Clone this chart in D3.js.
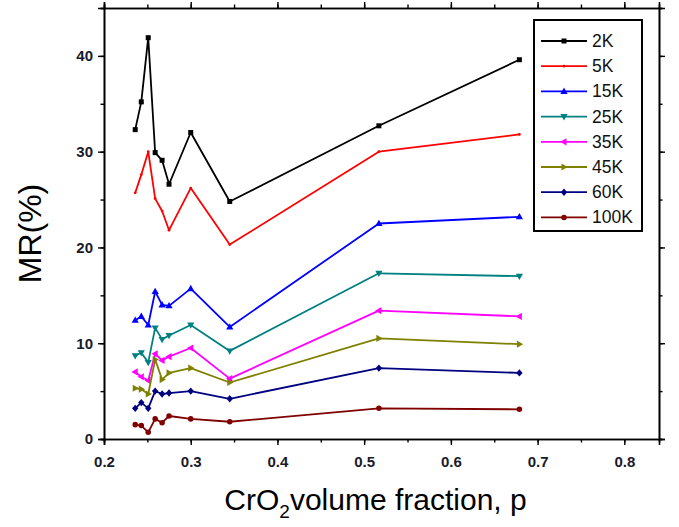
<!DOCTYPE html>
<html><head><meta charset="utf-8">
<script src="https://cdn.jsdelivr.net/npm/d3@7"></script>
<style>
html,body{margin:0;padding:0;background:#fff;}
svg text{font-family:Arial,"Liberation Sans",sans-serif;}
</style></head>
<body><svg id="c" width="679" height="527"></svg>
<script>
const pValues = [0.236, 0.243, 0.251, 0.259, 0.267, 0.275, 0.300, 0.345, 0.517, 0.679];
const seriesNames = ["2K","5K","15K","25K","35K","45K","60K","100K"];
const mr2K   = [32.3, 35.2, 41.9, 29.9, 29.1, 26.6, 32.0, 24.8, 32.7, 39.6];
const mr5K   = [25.7, 27.6, 30.0, 25.1, 23.8, 21.8, 26.2, 20.3, 30.0, 31.8];
const mr15K  = [12.4, 12.8, 11.9, 15.4, 14.0, 13.9, 15.7, 11.7, 22.5, 23.2];
const mr25K  = [8.7, 9.0, 8.0, 11.6, 10.4, 10.8, 11.9, 9.2, 17.3, 17.0];
const mr35K  = [7.0, 6.5, 6.1, 8.9, 8.2, 8.6, 9.5, 6.3, 13.4, 12.8];
const mr45K  = [5.3, 5.2, 4.7, 8.3, 6.2, 6.9, 7.4, 5.9, 10.5, 9.9];
const mr60K  = [3.2, 3.8, 3.2, 5.0, 4.7, 4.8, 5.0, 4.2, 7.4, 6.9];
const mr100K = [1.5, 1.4, 0.7, 2.1, 1.7, 2.4, 2.1, 1.8, 3.2, 3.1];
const seriesValues = [mr2K, mr5K, mr15K, mr25K, mr35K, mr45K, mr60K, mr100K];
const xTickLabels = ["0.2","0.3","0.4","0.5","0.6","0.7","0.8"];
const yTickLabels = ["0","10","20","30","40"];

const colors = ["#000000","#ff0000","#0000ff","#008080","#ff00ff","#808000","#000080","#800000"];
const shapes = ["square","smallcircle","up","down","left","right","diamond","circle"];

const svg = d3.select("#c");
const L = 104, R = 659, T = 8, B = 439;
const x = d3.scaleLinear().domain([0.2, 0.84]).range([L, R]);
const y = d3.scaleLinear().domain([0, 45]).range([B, T]);

function markerPath(shape){
  switch(shape){
    case "square": return "M-2.5,-2.5H2.5V2.5H-2.5Z";
    case "smallcircle": return d3.symbol(d3.symbolCircle, 6)();
    case "up": return "M0,-3.8L3.6,2.5L-3.6,2.5Z";
    case "down": return "M0,3.8L3.6,-2.5L-3.6,-2.5Z";
    case "left": return "M-3.8,0L2.5,-3.6L2.5,3.6Z";
    case "right": return "M3.8,0L-2.5,-3.6L-2.5,3.6Z";
    case "diamond": return "M0,-3.7L3.2,0L0,3.7L-3.2,0Z";
    case "circle": return d3.symbol(d3.symbolCircle, 24)();
  }
}

// axes frame
const xMinor = d3.range(0.2, 0.8401, 0.05);
const yMinor = d3.range(0, 45.01, 5);
const axB = svg.append("g").attr("transform",`translate(0,${B})`)
  .call(d3.axisBottom(x).tickValues(xTickLabels.map(Number)).tickFormat((d,i)=>xTickLabels[i]).tickSize(6).tickPadding(8));
const axBm = svg.append("g").attr("transform",`translate(0,${B})`)
  .call(d3.axisBottom(x).tickValues(xMinor).tickFormat("").tickSize(3.5));
const axT = svg.append("g").attr("transform",`translate(0,${T})`)
  .call(d3.axisTop(x).tickValues(xTickLabels.map(Number)).tickFormat("").tickSize(6));
const axTm = svg.append("g").attr("transform",`translate(0,${T})`)
  .call(d3.axisTop(x).tickValues(xMinor).tickFormat("").tickSize(3.5));
const axL = svg.append("g").attr("transform",`translate(${L},0)`)
  .call(d3.axisLeft(y).tickValues(yTickLabels.map(Number)).tickFormat((d,i)=>yTickLabels[i]).tickSize(6).tickPadding(5));
const axLm = svg.append("g").attr("transform",`translate(${L},0)`)
  .call(d3.axisLeft(y).tickValues(yMinor).tickFormat("").tickSize(3.5));
const axR = svg.append("g").attr("transform",`translate(${R},0)`)
  .call(d3.axisRight(y).tickValues(yTickLabels.map(Number)).tickFormat("").tickSize(6));
const axRm = svg.append("g").attr("transform",`translate(${R},0)`)
  .call(d3.axisRight(y).tickValues(yMinor).tickFormat("").tickSize(3.5));
[axB,axBm,axT,axTm,axL,axLm,axR,axRm].forEach(g=>{
  g.attr("font-family",null).attr("font-size",null);
  g.selectAll("path.domain").attr("stroke","#000").attr("stroke-width",1.6);
  g.selectAll("line").attr("stroke","#000").attr("stroke-width",1.4);
  g.selectAll("text").style("font-size","15px").style("font-weight","bold")
    .style("font-family","Arial, 'Liberation Sans', sans-serif").attr("fill","#1a1a2a");
});
axB.selectAll("text").attr("dy","0.9em");

// lines
const line = d3.line().x((d,i)=>x(pValues[i])).y(d=>y(d));
seriesValues.forEach((vals,si)=>{
  const g = svg.append("g");
  g.append("path").attr("d", line(vals)).attr("fill","none")
    .attr("stroke", colors[si]).attr("stroke-width",1.8).attr("stroke-linejoin","round");
  g.selectAll("path.m").data(vals).join("path").attr("class","m")
    .attr("transform",(d,i)=>`translate(${x(pValues[i])},${y(d)})`)
    .attr("d", markerPath(shapes[si])).attr("fill", colors[si]);
});

// legend
const lg = svg.append("g");
lg.append("rect").attr("x",534).attr("y",20).attr("width",108).attr("height",211)
  .attr("fill","#fff").attr("stroke","#000").attr("stroke-width",2);
seriesNames.forEach((n,i)=>{
  const yy = 41 + i*25.2;
  lg.append("line").attr("x1",541).attr("x2",587).attr("y1",yy).attr("y2",yy)
    .attr("stroke",colors[i]).attr("stroke-width",1.8);
  lg.append("path").attr("transform",`translate(564,${yy})`).attr("d",markerPath(shapes[i])).attr("fill",colors[i]);
  lg.append("text").attr("x",592).attr("y",yy+6).style("font-size","17.5px").attr("fill","#111").text(n);
});

// titles
svg.append("text").attr("transform",`translate(41,${(T+B)/2+10}) rotate(-90)`)
  .attr("text-anchor","middle").style("font-size","32px").attr("fill","#000").text("MR(%)");
const xt = svg.append("text").attr("x",(L+R)/2-6).attr("y",510).attr("text-anchor","middle")
  .style("font-size","30px").attr("fill","#000");
xt.append("tspan").text("CrO");
xt.append("tspan").style("font-size","19px").attr("dy",8).text("2");
xt.append("tspan").attr("dy",-8).text("volume fraction, p");
</script></body></html>
